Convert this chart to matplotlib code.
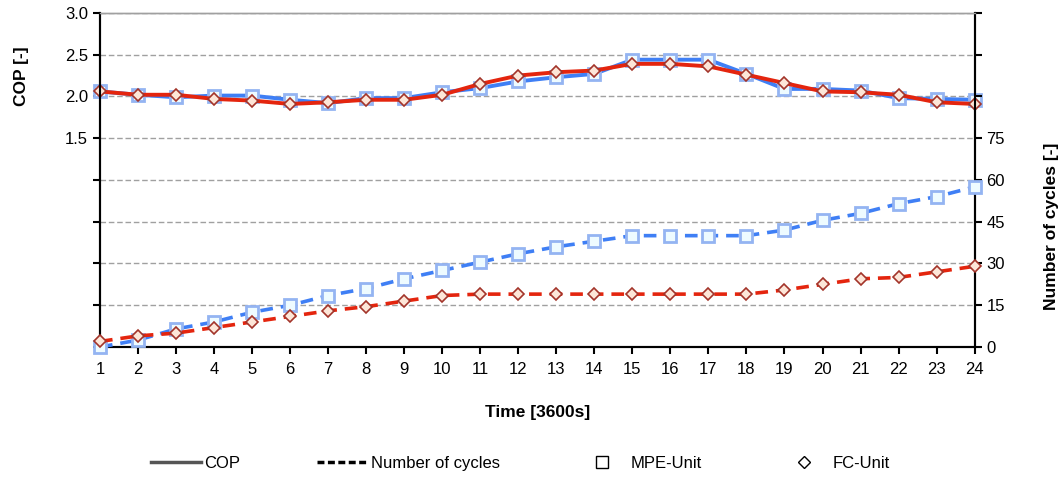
import numpy as np
import matplotlib.pyplot as plt
from matplotlib.lines import Line2D
from matplotlib.ticker import FixedLocator, FuncFormatter

plt.rcParams['font.family'] = ['Liberation Sans', 'DejaVu Sans']

hours = np.arange(1, 25)

# coefficient of performance per hour
cop_mpe = [2.06, 2.02, 1.99, 2.01, 2.01, 1.96, 1.92, 1.98, 1.98, 2.05, 2.10, 2.18,
           2.23, 2.27, 2.44, 2.44, 2.44, 2.27, 2.09, 2.09, 2.07, 1.98, 1.97, 1.96]
cop_fc = [2.06, 2.02, 2.02, 1.97, 1.95, 1.91, 1.93, 1.96, 1.96, 2.02, 2.15, 2.25,
          2.29, 2.31, 2.39, 2.39, 2.36, 2.26, 2.16, 2.06, 2.05, 2.02, 1.93, 1.91]

# cumulative number of on/off cycles
cycles_mpe = [0, 2.5, 6.5, 9, 12.5, 15, 18.5, 21, 24.5, 27.5, 30.5, 33.5,
              36, 38, 40, 40, 40, 40, 42, 45.5, 48, 51.5, 54, 57.5]
cycles_fc = [2, 4, 5, 7, 9, 11, 13, 14.5, 16.5, 18.5, 19, 19,
             19, 19, 19, 19, 19, 19, 20.5, 22.5, 24.5, 25, 27, 29]

blue = '#3f7ff5'
red = '#e4250e'
sq_style = dict(marker='s', markersize=9, markerfacecolor='#eefbff',
                markeredgecolor='#94b4f2', markeredgewidth=2, clip_on=False)
di_style = dict(marker='D', markersize=6.5, markerfacecolor='#fde6d8',
                markeredgecolor='#a3342a', markeredgewidth=1.2, clip_on=False)

fig = plt.figure(figsize=(10.64, 4.78), dpi=100)
ax = fig.add_axes([0.094, 0.274, 0.822, 0.699])
ax2 = ax.twinx()

ax.plot(hours, cop_mpe, color=blue, lw=2.8, zorder=3, **sq_style)
ax.plot(hours, cop_fc, color=red, lw=2.8, zorder=4, **di_style)
ax2.plot(hours, cycles_mpe, color=blue, lw=2.6, ls=(0, (3.5, 2.2)), zorder=3, **sq_style)
ax2.plot(hours, cycles_fc, color=red, lw=2.6, ls=(0, (3.5, 2.2)), zorder=4, **di_style)

ax.set_xlim(1, 24)
ax.set_ylim(-1.0, 3.0)
ax2.set_ylim(0, 120)

ax.yaxis.set_major_locator(FixedLocator(np.arange(-1.0, 3.01, 0.5)))
ax.yaxis.set_major_formatter(FuncFormatter(lambda v, p: f'{v:.1f}' if v >= 1.49 else ''))
ax2.yaxis.set_major_locator(FixedLocator(np.arange(0, 121, 15)))
ax2.yaxis.set_major_formatter(FuncFormatter(lambda v, p: f'{v:.0f}' if v <= 75 else ''))
ax.set_xticks(hours)

ax.grid(axis='y', color='#a0a0a0', ls=(0, (4, 2)), lw=1)
ax.set_axisbelow(True)

for a in (ax, ax2):
    a.tick_params(direction='out', length=5, width=1.5, labelsize=12, colors='black')
    for s in a.spines.values():
        s.set_linewidth(1.5)
    a.spines['top'].set_color('#a0a0a0')
    a.spines['top'].set_linewidth(1)
ax.tick_params(axis='x', pad=6)

ax.set_xlabel('Time [3600s]', fontsize=12.5, fontweight='bold', labelpad=20)
ax.set_ylabel('COP [-]', fontsize=12.5, fontweight='bold', y=0.81, labelpad=26)
ax2.set_ylabel('Number of cycles [-]', fontsize=12.5, fontweight='bold', y=0.36, labelpad=28)

handles = [
    Line2D([], [], color='#555555', lw=2.5),
    Line2D([], [], color='black', lw=2.5, ls=(0, (2, 1))),
    Line2D([], [], ls='none', marker='s', markersize=8, markerfacecolor='white',
           markeredgecolor='black', markeredgewidth=1),
    Line2D([], [], ls='none', marker='D', markersize=6, markerfacecolor='white',
           markeredgecolor='black', markeredgewidth=1),
]
labels = ['COP', 'Number of cycles', 'MPE-Unit', 'FC-Unit']
fig.legend(handles, labels, loc='center', bbox_to_anchor=(0.489, 0.03), ncol=4,
           frameon=False, fontsize=12, handlelength=3.0, handletextpad=0.2,
           columnspacing=4.65)

fig.savefig('out.png', dpi=100)
